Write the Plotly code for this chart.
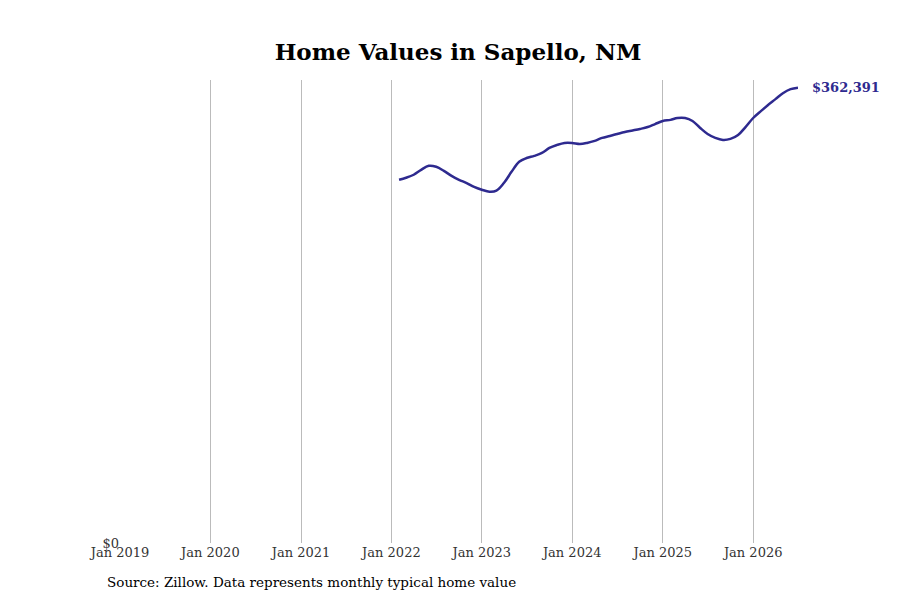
import plotly.graph_objects as go
import pandas as pd

dates = pd.date_range("2022-02-01", "2026-07-01", freq="MS")
values = [288700, 290300, 292700, 296600, 299800, 299000, 295800, 291800, 288700, 286100, 283000, 280800,
          279200, 280000, 286300, 295000, 303000, 306000, 307700, 310000, 314000, 316400, 318000, 318000,
          317200, 318000, 319600, 322000, 323500, 325100, 326700, 327900, 329100, 330600, 333000, 335400,
          336300, 337800, 337800, 335400, 329900, 325100, 322000, 320400, 321200, 324300, 330600, 337800,
          343300, 348000, 352800, 357500, 360700, 361900, 362391]
tick_dates = [f"{y}-01-01" for y in range(2019, 2027)]
tick_labels = [f"Jan {y}" for y in range(2019, 2027)]

FONT = "DejaVu Serif"
fig = go.Figure(go.Scatter(x=dates, y=values, mode="lines",
                           line=dict(color="#2e2a8f", width=2.5, shape="spline"),
                           hoverinfo="skip"))
fig.add_annotation(x=dates[-1], y=values[-1], text=f"<b>${values[-1]:,}</b>",
                   showarrow=False, xanchor="left", xshift=12,
                   font=dict(color="#2e2a8f", size=13, family=FONT))
fig.add_annotation(x=0.0, y=-0.105, xref="paper", yref="paper",
                   text="Source: Zillow. Data represents monthly typical home value",
                   showarrow=False, xanchor="left", xshift=-15,
                   font=dict(size=13.5, color="black", family=FONT))
fig.update_layout(
    width=900, height=600, plot_bgcolor="white", paper_bgcolor="white",
    margin=dict(l=112, r=110, t=72, b=65),
    title=dict(text="<b>Home Values in Sapello, NM</b>", x=0.5, y=0.94, xanchor="center",
               font=dict(size=23, family=FONT, color="black")),
    font=dict(family=FONT, color="#333", size=13),
    showlegend=False,
    xaxis=dict(range=["2019-01-01", "2026-07-01"], tickvals=tick_dates, ticktext=tick_labels,
               showgrid=True, gridcolor="#bbbbbb", gridwidth=1, zeroline=False, showline=False,
               ticks="", automargin=False),
    yaxis=dict(range=[0, 368000], tickvals=[0], ticktext=["$0"], showgrid=False,
               zeroline=False, showline=False, ticks="", automargin=False),
)
fig.write_html("out.html")
